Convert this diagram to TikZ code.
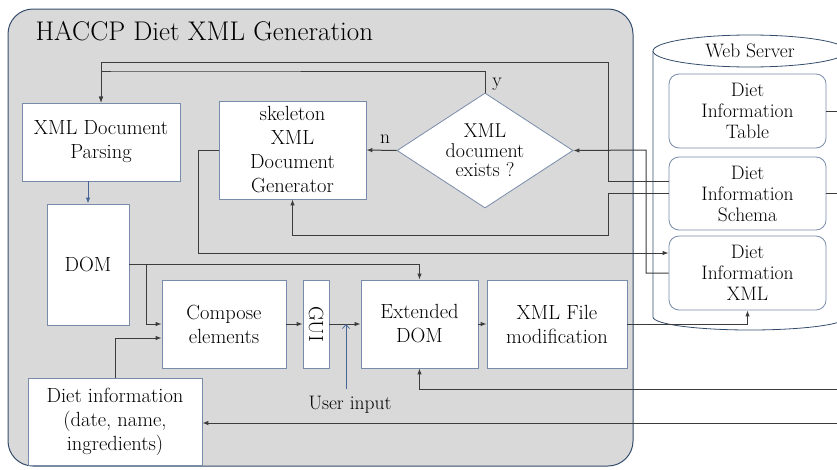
\documentclass[tikz,border=0pt]{standalone}
\usepackage{graphicx}
\usetikzlibrary{shapes.geometric,arrows.meta}
\begin{document}
\begin{tikzpicture}[x=1pt,y=-1pt,>={Latex[length=6pt,width=4.5pt]},line width=1pt,
  box/.style={draw=boxline,fill=white,line width=0.8pt,inner sep=0pt,align=center,font=\fontsize{20.5}{24}\selectfont},
  dbbox/.style={box,rounded corners=10pt,minimum width=157pt,font=\fontsize{19.5}{21}\selectfont},
  lbl/.style={inner sep=0pt,font=\fontsize{19.5}{21}\selectfont},
  link/.style={draw=linkgray,->},
  wire/.style={draw=linkgray}]
\definecolor{panelgray}{RGB}{217,217,217}
\definecolor{panelline}{RGB}{52,76,108}
\definecolor{boxline}{RGB}{120,140,170}
\definecolor{linkgray}{RGB}{60,60,60}
\definecolor{inblue}{RGB}{70,100,150}
\useasboundingbox (0,0) rectangle (837,469);
% container and web server
\node[draw=panelline,fill=panelgray,rounded corners=25pt,minimum width=625pt,minimum height=457pt] (haccp) at (320.5,237.5) {};
\node[anchor=base west,inner sep=0pt,font=\fontsize{27}{30}\selectfont] (title) at (35,40) {HACCP Diet XML Generation};
\draw[panelline,line width=0.8pt] (653,51) -- (653,317) arc[start angle=180,end angle=360,x radius=97pt,y radius=13pt];
\draw[panelline,line width=0.8pt,fill=white] (750,51) ellipse[x radius=97pt,y radius=16pt];
\node[inner sep=0pt,font=\fontsize{19.5}{21}\selectfont] (wslbl) at (750,51) {Web Server};
% boxes
\node[box,minimum width=158pt,minimum height=78pt] (parse) at (101,142) {XML Document\\Parsing};
\node[box,minimum width=82pt,minimum height=121pt] (dom) at (88,264.5) {DOM};
\node[box,minimum width=147pt,minimum height=98pt] (skel) at (292.5,150) {skeleton\\XML\\Document\\Generator};
\node[box,diamond,aspect=1.53,minimum width=176pt,minimum height=115pt,font=\fontsize{20}{19.5}\selectfont] (exists) at (485,150.5) {XML\\document\\exists ?};
\node[box,minimum width=124pt,minimum height=88pt] (compose) at (224,324) {Compose\\elements};
\node[box,minimum width=26pt,minimum height=88pt] (gui) at (316,324) {\rotatebox{-90}{GUI}};
\node[box,minimum width=117pt,minimum height=88pt] (ext) at (419.5,324) {Extended\\DOM};
\node[box,minimum width=140pt,minimum height=88pt] (xmlmod) at (557,324) {XML File\\modification};
\node[box,minimum width=174pt,minimum height=87pt] (diet) at (115,421.5) {Diet information\\(date, name,\\ingredients)};
\node[dbbox,minimum height=74pt] (tbl) at (747.5,111) {Diet\\Information\\Table};
\node[dbbox,minimum height=73pt] (schema) at (747.5,193.5) {Diet\\Information\\Schema};
\node[dbbox,minimum height=74pt] (xmlf) at (747.5,273) {Diet\\Information\\XML};
% labels
\node[lbl] (ylbl) at (497,84) {y};
\node[lbl] (nlbl) at (385,139) {n};
\node[lbl] (uin) at (350,405) {User input};
% free ends
\coordinate (tblout) at (837,111);
\coordinate (schout) at (837,193.5);
\coordinate (extin) at (837,389);
\coordinate (dietin) at (837,423);
\coordinate (domfork) at (146,264.5);
\coordinate (uintop) at (346,389);
\coordinate (uinend) at (346,324);
% connectors
\draw[link] ([yshift=12.5pt]schema.west) -| (608,62) -| (parse.north);
\draw[link] (exists.north) |- (120,71) -| (parse.north);
\draw[link] (exists.west) -- (skel.east);
\draw[link] (schema.west) -| (608,235) -| (skel.south);
\draw[link] (xmlf.west) -| (646,150) -- (exists.east);
\draw[link] (skel.west) -| (198,253) -- ([yshift=20pt]xmlf.west);
\draw[->,inblue] (parse.south -| dom.north) -- (dom.north);
\draw[link] (dom.east) -| (ext.north);
\draw[link] (domfork) |- (compose.west);
\draw[link] (diet.north) |- ([yshift=-14pt]compose.west);
\draw[link] (compose.east) -- (gui.west);
\draw[link] (gui.east) -- (ext.west);
\draw[-{Straight Barb[length=4pt,width=7pt]},inblue,line width=0.7pt] (uintop) -- (uinend);
\draw[link] (ext.east) -- (xmlmod.west);
\draw[link] (xmlmod.east) -| (xmlf.south);
\draw[link] (extin) -| (ext.south);
\draw[link] (dietin) -- (dietin -| diet.east);
\draw[wire] (tbl.east) -- (tblout);
\draw[wire] (schema.east) -- (schout);
\end{tikzpicture}
\end{document}
